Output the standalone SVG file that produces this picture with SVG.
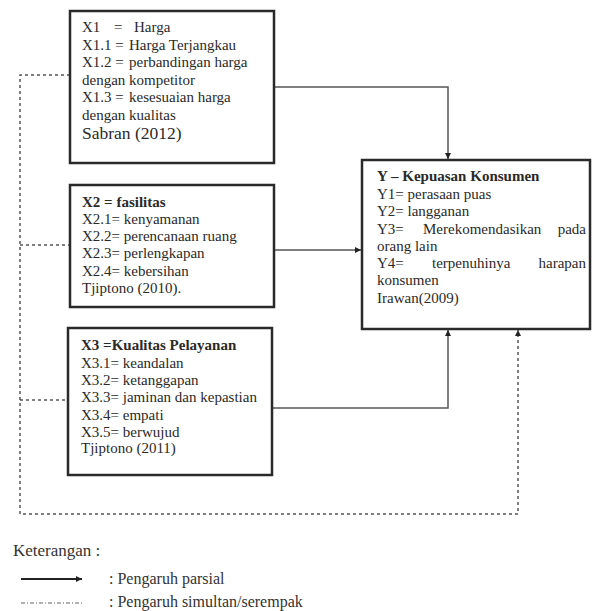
<svg xmlns="http://www.w3.org/2000/svg" width="592" height="611" viewBox="0 0 592 611">
<defs>
<marker id="ah" viewBox="0 0 10 10" refX="10" refY="5" markerWidth="6" markerHeight="6" markerUnits="userSpaceOnUse" orient="auto">
<path d="M0,0 L10,5 L0,10 z" fill="#222"/>
</marker>
<style>
.box{fill:#fff;stroke:#2a2a2a;stroke-width:2.5}
.t{font-size:15px;fill:#2a2a2a}
.b{font-weight:bold}
.solid{fill:none;stroke:#555;stroke-width:1.5}
.dash{fill:none;stroke:#555;stroke-width:1.5;stroke-dasharray:3 3}
.lg{font-size:16px;fill:#333}
</style>
</defs>
<rect width="592" height="611" fill="#fff"/>
<g id="connectors">
<polyline class="solid" points="274,87 448,87 448,159" marker-end="url(#ah)"/>
<line class="solid" x1="274" y1="250" x2="361" y2="250" marker-end="url(#ah)"/>
<polyline class="solid" points="272,408 448,408 448,330" marker-end="url(#ah)"/>
<polyline class="dash" points="70,75 20,75 20,514 518,514 518,330" marker-end="url(#ah)"/>
<line class="dash" x1="20" y1="245" x2="70" y2="245"/>
<line class="dash" x1="20" y1="400" x2="68" y2="400"/>
</g>
<g id="x1" font-family="Liberation Serif, Times New Roman, serif">
<rect class="box" x="70" y="11" width="204" height="152"/>
<text class="t" x="82" y="32">X1 <tspan x="114">=</tspan><tspan x="134">Harga</tspan></text>
<text class="t" x="82" y="49.5">X1.1 = <tspan x="129">Harga Terjangkau</tspan></text>
<text class="t" x="82" y="67">X1.2 = <tspan x="129">perbandingan harga</tspan></text>
<text class="t" x="82" y="84.5">dengan kompetitor</text>
<text class="t" x="82" y="102">X1.3 = <tspan x="129">kesesuaian harga</tspan></text>
<text class="t" x="82" y="119.5">dengan kualitas</text>
<text class="t" x="82" y="139" style="font-size:17.5px">Sabran (2012)</text>
</g>
<g id="x2" font-family="Liberation Serif, Times New Roman, serif">
<rect class="box" x="70" y="185" width="204" height="122"/>
<text class="t b" x="82" y="207">X2 = fasilitas</text>
<text class="t" x="82" y="224">X2.1= kenyamanan</text>
<text class="t" x="82" y="241">X2.2= perencanaan ruang</text>
<text class="t" x="82" y="258">X2.3= perlengkapan</text>
<text class="t" x="82" y="276">X2.4= kebersihan</text>
<text class="t" x="82" y="293">Tjiptono (2010).</text>
</g>
<g id="x3" font-family="Liberation Serif, Times New Roman, serif">
<rect class="box" x="68" y="328" width="204" height="147"/>
<text class="t b" x="81" y="350">X3 =Kualitas Pelayanan</text>
<text class="t" x="81" y="368">X3.1= keandalan</text>
<text class="t" x="81" y="385">X3.2= ketanggapan</text>
<text class="t" x="81" y="402">X3.3= jaminan dan kepastian</text>
<text class="t" x="81" y="420">X3.4= empati</text>
<text class="t" x="81" y="437">X3.5= berwujud</text>
<text class="t" x="81" y="453">Tjiptono (2011)</text>
</g>
<g id="y" font-family="Liberation Serif, Times New Roman, serif">
<rect class="box" x="362" y="160" width="228" height="169"/>
<text class="t b" x="377" y="181">Y – Kepuasan Konsumen</text>
<text class="t" x="377" y="199">Y1= perasaan puas</text>
<text class="t" x="377" y="216">Y2= langganan</text>
<text class="t" x="377" y="234">Y3=</text>
<text class="t" x="423" y="234">Merekomendasikan</text>
<text class="t" x="586" y="234" text-anchor="end">pada</text>
<text class="t" x="377" y="251">orang lain</text>
<text class="t" x="377" y="268">Y4=</text>
<text class="t" x="432" y="268">terpenuhinya</text>
<text class="t" x="586" y="268" text-anchor="end">harapan</text>
<text class="t" x="377" y="285">konsumen</text>
<text class="t" x="377" y="303">Irawan(2009)</text>
</g>
<g id="legend" font-family="Liberation Serif, Times New Roman, serif">
<text class="lg" x="13" y="556" style="font-size:17px">Keterangan  :</text>
<line x1="21" y1="579" x2="82" y2="579" stroke="#222" stroke-width="1.8" marker-end="url(#ah)"/>
<text class="lg" x="109" y="584">: Pengaruh parsial</text>
<line x1="21" y1="603" x2="82" y2="603" stroke="#666" stroke-width="1.2" stroke-dasharray="4 2 1 2"/>
<text class="lg" x="109" y="607">: Pengaruh simultan/serempak</text>
</g>
</svg>
